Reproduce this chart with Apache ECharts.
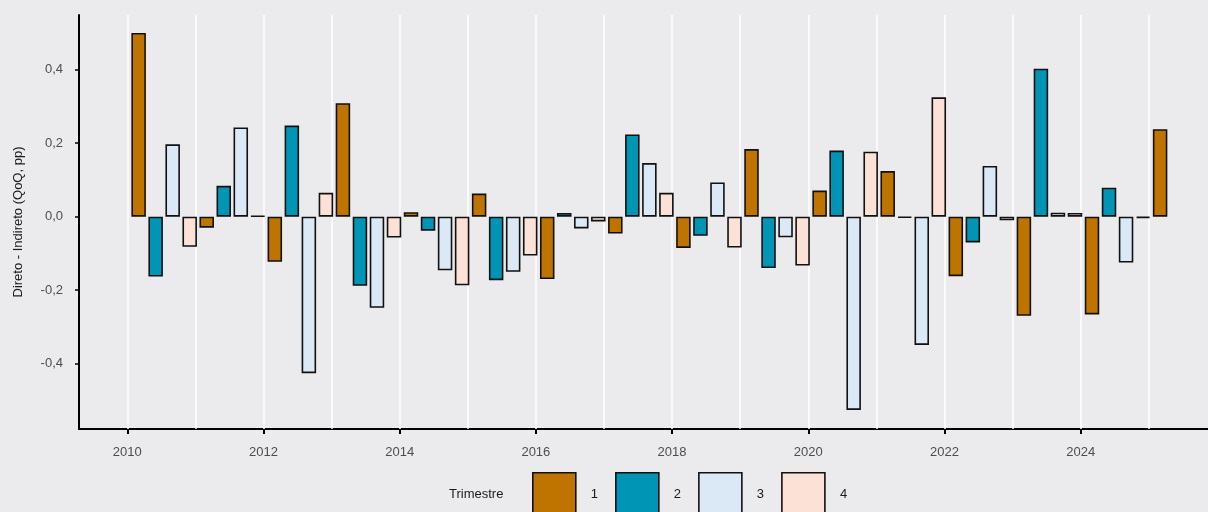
<!DOCTYPE html>
<html>
<head>
<meta charset="utf-8">
<script src="https://cdn.jsdelivr.net/npm/echarts@6/dist/echarts.min.js"></script>
<style>
html, body { margin: 0; padding: 0; background: #ebebed; }
#main { width: 1208px; height: 512px; }
</style>
</head>
<body>
<div id="main"></div>
<script>
// valores por trimestre (Direto - Indireto, QoQ, pp)
var anos = [2010, 2011, 2012, 2013, 2014, 2015, 2016, 2017, 2018, 2019, 2020, 2021, 2022, 2023, 2024, 2025];
var trimestres = ['1', '2', '3', '4'];
var q1 = [0.50, -0.03, -0.123, 0.309, 0.012, 0.063, -0.170, -0.046, -0.085, 0.184, 0.071, 0.124, -0.162, -0.270, -0.266, 0.238];
var q2 = [-0.163, 0.084, 0.248, -0.188, -0.038, -0.173, 0.010, 0.224, -0.052, -0.140, 0.180, -0.003, -0.070, 0.403, 0.079];
var q3 = [0.197, 0.243, -0.426, -0.248, -0.146, -0.150, -0.032, 0.146, 0.093, -0.056, -0.526, -0.349, 0.138, 0.011, -0.125];
var q4 = [-0.082, 0.002, 0.065, -0.057, -0.187, -0.106, -0.013, 0.065, -0.084, -0.133, 0.177, 0.325, -0.010, 0.010, -0.004];
var anosEixo = [2010, 2012, 2014, 2016, 2018, 2020, 2022, 2024];
var ticksY = [-0.4, -0.2, 0, 0.2, 0.4];
var cores = ['#c07400', '#0094b5', '#dbe8f5', '#fce2d6'];

var myChart = echarts.init(document.getElementById('main'));

// data do trimestre = 1o dia do 3o mes do trimestre, em anos decimais
var toSerie = function(vals, q) {
    var res = [];
    for (var i = 0; i < vals.length; i++) {
        res.push([anos[i] + (3 * q - 1) / 12, vals[i]]);
    }
    return res;
};

var series = [{
    name: 'grade',
    type: 'line',
    z: 1,
    silent: true,
    showSymbol: false,
    data: [],
    markLine: {
        z: 1,
        silent: true,
        symbol: 'none',
        label: { show: false },
        lineStyle: { color: '#ffffff', width: 1.5, type: 'solid' },
        data: anos.map(function(a) { return { xAxis: a }; })
    }
}];
[q1, q2, q3, q4].forEach(function(vals, i) {
    series.push({
        name: trimestres[i],
        type: 'bar',
        z: 3,
        barWidth: 14.5,
        barGap: '-100%',
        data: toSerie(vals, i + 1),
        itemStyle: {
            color: cores[i],
            borderColor: '#111',
            borderWidth: 1.6
        }
    });
});

option = {
    backgroundColor: '#ebebed',
    animation: false,
    textStyle: { fontFamily: 'Liberation Sans, Arial, sans-serif' },
    title: {
        text: 'Trimestre',
        left: 449,
        top: 488,
        padding: 0,
        textStyle: { fontSize: 13, fontWeight: 'normal', color: '#1a1a1a' }
    },
    legend: {
        data: trimestres,
        left: 532,
        top: 472,
        padding: 0,
        itemWidth: 43,
        itemHeight: 43,
        itemGap: 17,
        icon: 'rect',
        selectedMode: false,
        itemStyle: { borderColor: '#111', borderWidth: 1.6 },
        textStyle: { fontSize: 13, color: '#1a1a1a', padding: [0, 0, 0, 10] }
    },
    grid: {
        left: 79,
        right: 0,
        top: 15,
        bottom: 83
    },
    xAxis: {
        type: 'value',
        min: 2009.291,
        max: 2025.87,
        axisLine: { onZero: false, lineStyle: { color: '#000', width: 2 } },
        axisTick: { customValues: anosEixo, length: 5, lineStyle: { color: '#000', width: 2 } },
        axisLabel: {
            customValues: anosEixo,
            margin: 17,
            fontSize: 13,
            color: '#4d4d4d',
            formatter: function(v) { return String(v); }
        },
        splitLine: { show: false }
    },
    yAxis: {
        type: 'value',
        min: -0.578,
        max: 0.549,
        name: 'Direto - Indireto (QoQ, pp)',
        nameLocation: 'middle',
        nameGap: 54,
        nameTextStyle: { fontSize: 13, color: '#1a1a1a' },
        axisLine: { show: true, onZero: false, lineStyle: { color: '#000', width: 2 } },
        axisTick: { show: true, customValues: ticksY, length: 4, lineStyle: { color: '#000', width: 1.5 } },
        axisLabel: {
            customValues: ticksY,
            margin: 16,
            fontSize: 13,
            color: '#4d4d4d',
            formatter: function(v) { return v.toFixed(1).replace('.', ','); }
        },
        splitLine: { show: false }
    },
    series: series
};

myChart.setOption(option);
</script>
</body>
</html>
